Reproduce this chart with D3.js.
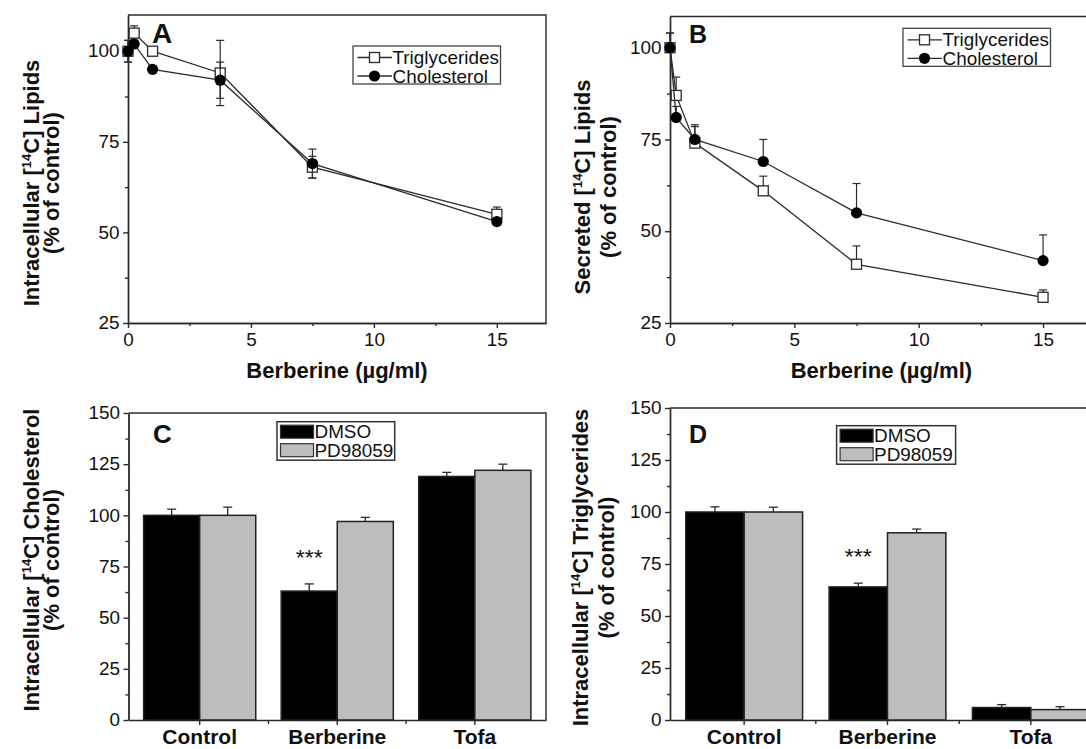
<!DOCTYPE html>
<html>
<head>
<meta charset="utf-8">
<script src="https://d3js.org/d3.v7.min.js"></script>
<style>
  body { margin: 0; background: #fff; }
  svg { display: block; font-family: 'Liberation Sans', Arial, sans-serif; }
</style>
</head>
<body>
<script>
// panels A and B: berberine dose (ug/ml)
const dose = [0, 0.25, 1, 3.75, 7.5, 15];

const trigA = [100, 105, 100, 94, 68, 55];
const trigAErr = [3, 2, 1, 9, 3, 2];
const cholA = [100, 102, 95, 92, 69, 53];
const cholAErr = [3, 1, 1, 5, 4, 1];

const trigB = [100, 87, 74, 61, 41, 32];
const trigBErr = [4, 5, 5, 4, 5, 2];
const cholB = [100, 81, 75, 69, 55, 42];
const cholBErr = [4, 3, 3.5, 6, 8, 7];

// panels C and D
const groups = ['Control', 'Berberine', 'Tofa'];
const treatments = ['DMSO', 'PD98059'];
const cholDMSO = [100, 63, 119], cholDMSOErr = [3, 3.5, 2];
const cholPD = [100, 97, 122], cholPDErr = [4, 2, 3];
const trigDMSO = [100, 64, 6], trigDMSOErr = [2.5, 1.8, 1.4];
const trigPD = [100, 90, 5], trigPDErr = [2.3, 1.8, 1.4];
const sigC = ['', '***', ''];
const sigD = ['', '***', ''];

const lineTicks = [25, 50, 75, 100], lineMinor = [37.5, 62.5, 87.5];
const doseTicks = [0, 5, 10, 15], doseMinor = [2.5, 7.5, 12.5];
const barTicks = [0, 25, 50, 75, 100, 125, 150];
const barMinor = [12.5, 37.5, 62.5, 87.5, 112.5, 137.5];

const SX = 1.05;          // regular text in the figure is a bit wide
const FS = 18;
const ink = '#2b2b2b';

const svg = d3.select('body').append('svg').attr('width', 1086).attr('height', 749);

function plain(g, x, y, s, size, anchor) {
  return g.append('text')
    .attr('transform', `translate(${x},${y}) scale(${SX},1)`)
    .attr('font-size', size)
    .attr('text-anchor', anchor || 'start')
    .attr('fill', '#111')
    .text(s);
}

function bold(g, x, y, s, size, anchor) {
  return g.append('text')
    .attr('x', x).attr('y', y)
    .attr('font-size', size)
    .attr('font-weight', 'bold')
    .attr('text-anchor', anchor || 'start')
    .attr('fill', '#111')
    .text(s);
}

function yTitle(g, xs, yc, first, rest) {
  const t = g.append('text')
    .attr('transform', `translate(${xs[0]},${yc}) rotate(-90)`)
    .attr('text-anchor', 'middle')
    .attr('font-size', 22)
    .attr('font-weight', 'bold')
    .attr('fill', '#111');
  t.append('tspan').text(first + ' [');
  t.append('tspan').attr('dy', -8).attr('font-size', 13).text('14');
  t.append('tspan').attr('dy', 8).text('C] ' + rest);
  bold(g, 0, 0, '(% of control)', 22, 'middle')
    .attr('transform', `translate(${xs[1]},${yc}) rotate(-90)`);
}

function styleAxis(a) {
  a.attr('font-family', null).attr('font-size', FS);
  a.selectAll('.domain, line').attr('stroke', ink).attr('stroke-width', 1.4);
  a.selectAll('text').attr('fill', '#111').attr('transform', `scale(${SX},1)`);
  return a;
}

function marker(sel, shape, r) {
  if (shape === 'square') {
    sel.append('rect')
      .attr('x', -r).attr('y', -r).attr('width', 2 * r).attr('height', 2 * r)
      .attr('fill', '#fff').attr('stroke', ink).attr('stroke-width', 1.3);
  } else {
    sel.append('circle').attr('r', r + 0.6).attr('fill', '#000');
  }
}

function linePanel(p) {
  const [y0, y1] = p.yDomain;
  const x = d3.scaleLinear().domain([0, 17]).range([p.left, p.right]);
  const y = d3.scaleLinear().domain(p.yDomain).range([323, p.top]);
  const g = svg.append('g');

  g.append('path')
    .attr('d', `M${x(0)},${y(y1)}H${x(17)}V${y(y0)}`)
    .attr('fill', 'none').attr('stroke', ink).attr('stroke-width', 1.4);

  styleAxis(g.append('g').attr('transform', `translate(0,${y(y0)})`)
    .call(d3.axisBottom(x).tickValues(doseTicks).tickSize(5).tickPadding(5).tickSizeOuter(0)));
  styleAxis(g.append('g').attr('transform', `translate(0,${y(y0)})`)
    .call(d3.axisBottom(x).tickValues(doseMinor).tickSize(3).tickFormat('').tickSizeOuter(0)));
  styleAxis(g.append('g').attr('transform', `translate(${x(0)},0)`)
    .call(d3.axisLeft(y).tickValues(lineTicks).tickSize(5).tickPadding(3).tickSizeOuter(0)));
  styleAxis(g.append('g').attr('transform', `translate(${x(0)},0)`)
    .call(d3.axisLeft(y).tickValues(lineMinor).tickSize(3).tickFormat('').tickSizeOuter(0)));

  const series = [
    {name: 'Triglycerides', vals: p.trig, errs: p.trigErr, shape: 'square'},
    {name: 'Cholesterol', vals: p.chol, errs: p.cholErr, shape: 'circle'}
  ];

  series.forEach(s => {
    const pts = dose.map((d, i) => ({x: d, v: s.vals[i], e: s.errs[i]}));
    const eb = g.append('g').attr('stroke', ink).attr('stroke-width', 1.2);
    eb.append('g').selectAll('line').data(pts).join('line')
      .attr('x1', d => x(d.x)).attr('x2', d => x(d.x))
      .attr('y1', d => y(p.upOnly ? d.v : d.v - d.e))
      .attr('y2', d => y(d.v + d.e));
    eb.append('g').selectAll('line').data(pts).join('line')
      .attr('x1', d => x(d.x) - 4).attr('x2', d => x(d.x) + 4)
      .attr('y1', d => y(d.v + d.e)).attr('y2', d => y(d.v + d.e));
    if (!p.upOnly) {
      eb.append('g').selectAll('line').data(pts).join('line')
        .attr('x1', d => x(d.x) - 4).attr('x2', d => x(d.x) + 4)
        .attr('y1', d => y(d.v - d.e)).attr('y2', d => y(d.v - d.e));
    }
    g.append('path')
      .datum(pts)
      .attr('fill', 'none').attr('stroke', ink).attr('stroke-width', 1.3)
      .attr('d', d3.line().x(d => x(d.x)).y(d => y(d.v)));
    g.append('g').selectAll('g').data(pts).join('g')
      .attr('transform', d => `translate(${x(d.x)},${y(d.v)})`)
      .each(function () { marker(d3.select(this), s.shape, 5); });
  });

  const lg = g.append('g')
    .attr('transform', `translate(${x(0) + p.legend[0]},${y(y1) + p.legend[1]})`);
  lg.append('rect')
    .attr('width', 147.5).attr('height', 38)
    .attr('fill', '#fff').attr('stroke', '#444').attr('stroke-width', 1.3);
  series.forEach((s, i) => {
    const cy = 11.5 + i * 18.5;
    lg.append('line')
      .attr('x1', 4.5).attr('x2', 39).attr('y1', cy).attr('y2', cy)
      .attr('stroke', ink).attr('stroke-width', 1.3);
    marker(lg.append('g').attr('transform', `translate(21.5,${cy})`), s.shape, 5);
    plain(lg, 39.5, cy + 6.5, s.name, FS);
  });

  bold(g, (x(0) + x(17)) / 2, 378, 'Berberine (\u00b5g/ml)', 22, 'middle');
  yTitle(g, p.titleX, p.titleY, p.first, 'Lipids');
  bold(g, p.letter[0], p.letter[1], p.letter[2], p.letter[3]);
}

function barPanel(p) {
  const x0 = d3.scaleBand().domain(groups).range([p.left, p.right])
    .paddingInner(0.185).paddingOuter(0.11);
  const x1 = d3.scaleBand().domain(treatments).range([0, x0.bandwidth()]);
  const y = d3.scaleLinear().domain([0, 150]).range([720, p.top]);
  const fill = d3.scaleOrdinal().domain(treatments).range(['#000', '#bdbdbd']);
  const g = svg.append('g');

  g.append('path')
    .attr('d', `M${p.left},${y(150)}H${p.right}V${y(0)}`)
    .attr('fill', 'none').attr('stroke', ink).attr('stroke-width', 1.4);

  styleAxis(g.append('g').attr('transform', `translate(${p.left},0)`)
    .call(d3.axisLeft(y).tickValues(barTicks).tickSize(5).tickPadding(3).tickSizeOuter(0)));
  styleAxis(g.append('g').attr('transform', `translate(${p.left},0)`)
    .call(d3.axisLeft(y).tickValues(barMinor).tickSize(3).tickFormat('').tickSizeOuter(0)));
  const xa = styleAxis(g.append('g').attr('transform', `translate(0,${y(0)})`)
    .call(d3.axisBottom(x0).tickSize(5).tickPadding(4).tickSizeOuter(0)));
  xa.selectAll('text').attr('transform', null)
    .attr('font-size', 21).attr('font-weight', 'bold');
  g.append('g').selectAll('line')
    .data(d3.pairs(groups))
    .join('line')
    .attr('x1', d => (x0(d[0]) + x0(d[1]) + x0.bandwidth()) / 2)
    .attr('x2', d => (x0(d[0]) + x0(d[1]) + x0.bandwidth()) / 2)
    .attr('y1', y(0)).attr('y2', y(0) + 4)
    .attr('stroke', ink).attr('stroke-width', 1.4);

  const rows = groups.flatMap((grp, i) => [
    {grp, key: 'DMSO', v: p.dmso[i], e: p.dmsoErr[i], sig: p.sig[i]},
    {grp, key: 'PD98059', v: p.pd[i], e: p.pdErr[i], sig: ''}
  ]);
  const cx = d => x0(d.grp) + x1(d.key) + x1.bandwidth() / 2;

  g.append('g').selectAll('line').data(rows).join('line')
    .attr('x1', cx).attr('x2', cx)
    .attr('y1', d => y(d.v)).attr('y2', d => y(d.v + d.e))
    .attr('stroke', ink).attr('stroke-width', 1.3);
  g.append('g').selectAll('line').data(rows).join('line')
    .attr('x1', d => cx(d) - 4.5).attr('x2', d => cx(d) + 4.5)
    .attr('y1', d => y(d.v + d.e)).attr('y2', d => y(d.v + d.e))
    .attr('stroke', ink).attr('stroke-width', 1.3);

  g.append('g').selectAll('rect').data(rows).join('rect')
    .attr('x', d => x0(d.grp) + x1(d.key))
    .attr('y', d => y(d.v))
    .attr('width', x1.bandwidth())
    .attr('height', d => y(0) - y(d.v))
    .attr('fill', d => fill(d.key))
    .attr('stroke', '#222').attr('stroke-width', 1.5);

  rows.filter(d => d.sig).forEach(d => {
    plain(g, cx(d), y(d.v + d.e) - 19, d.sig, 22, 'middle');
  });

  const lg = g.append('g')
    .attr('transform', `translate(${p.left + p.legend[0]},${y(150) + p.legend[1]})`);
  lg.append('rect')
    .attr('width', p.legend[2]).attr('height', 38.5)
    .attr('fill', '#fff').attr('stroke', '#333').attr('stroke-width', 1.5);
  treatments.forEach((t, i) => {
    const top = 3.5 + i * 18.5;
    lg.append('rect')
      .attr('x', 3.5).attr('y', top).attr('width', 33).attr('height', 13)
      .attr('fill', fill(t)).attr('stroke', '#333').attr('stroke-width', 1.2);
    plain(lg, 37.5, top + 13, t, FS);
  });

  yTitle(g, p.titleX, p.titleY, 'Intracellular', p.rest);
  bold(g, p.letter[0], p.letter[1], p.letter[2], p.letter[3]);
}

linePanel({
  left: 128, right: 546, top: 15, yDomain: [25, 110],
  trig: trigA, trigErr: trigAErr, chol: cholA, cholErr: cholAErr, upOnly: false,
  legend: [225, 31], titleX: [38.8, 59.3], titleY: 183, first: 'Intracellular',
  letter: [152, 43.3, 'A', 28]
});

linePanel({
  left: 670, right: 1092.8, top: 16.5, yDomain: [25, 108.5],
  trig: trigB, trigErr: trigBErr, chol: cholB, cholErr: cholBErr, upOnly: true,
  legend: [233, 11.8], titleX: [589.5, 616], titleY: 187, first: 'Secreted',
  letter: [689, 42.7, 'B', 25]
});

barPanel({
  left: 128.5, right: 546, top: 413,
  dmso: cholDMSO, dmsoErr: cholDMSOErr, pd: cholPD, pdErr: cholPDErr, sig: sigC,
  legend: [148.5, 8.7, 117.7], titleX: [38.5, 59.3], titleY: 560, rest: 'Cholesterol',
  letter: [153, 443, 'C', 26]
});

barPanel({
  left: 670, right: 1105, top: 408,
  dmso: trigDMSO, dmsoErr: trigDMSOErr, pd: trigPD, pdErr: trigPDErr, sig: sigD,
  legend: [166.6, 17.7, 119], titleX: [588.4, 614.4], titleY: 567.5, rest: 'Triglycerides',
  letter: [689, 443, 'D', 25]
});
</script>
</body>
</html>
